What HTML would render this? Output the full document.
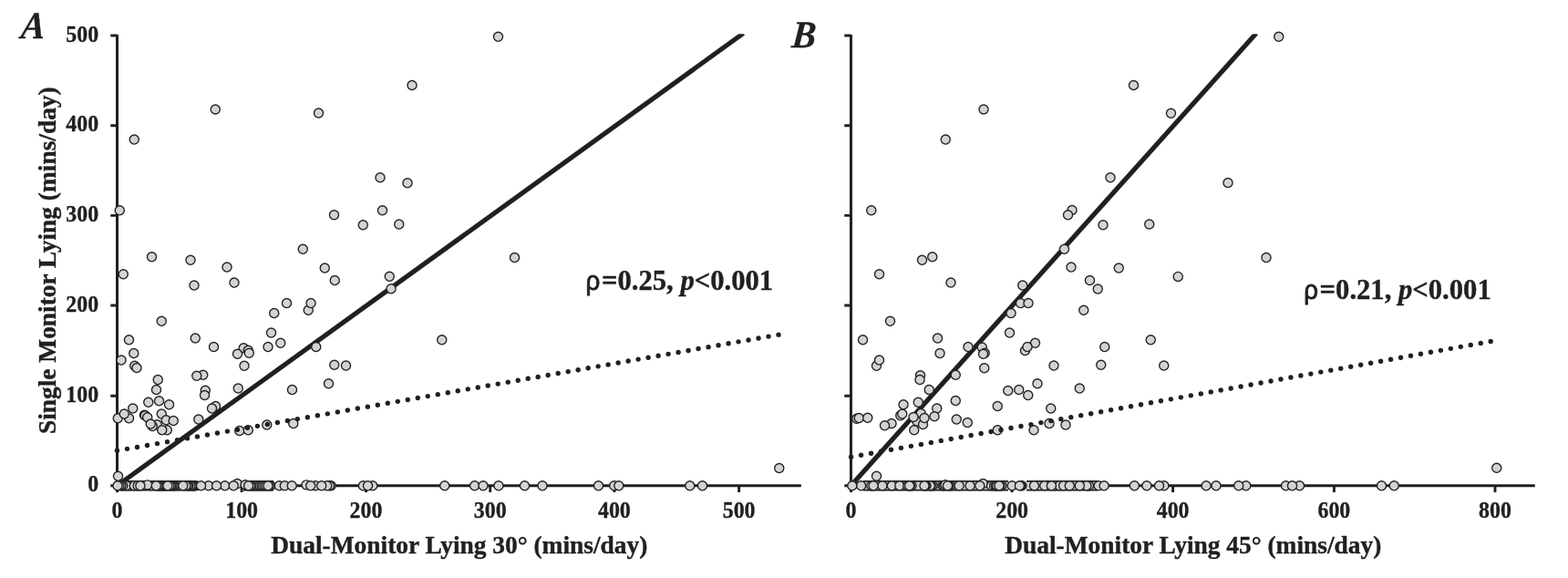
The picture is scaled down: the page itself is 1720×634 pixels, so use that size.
<!DOCTYPE html>
<html lang="en">
<head>
<meta charset="utf-8">
<title>Figure: Single monitor vs dual-monitor lying</title>
<style>
html,body{margin:0;padding:0;background:#fff;}
body{width:1720px;height:634px;overflow:hidden;}
svg{display:block;}
text{font-family:"Liberation Serif","Times New Roman",Times,serif;font-weight:bold;fill:#231f20;}
.rho{font-family:"Liberation Sans","DejaVu Sans",Arial,sans-serif;font-weight:normal;font-size:28.6px;stroke-width:0.85px;}
</style>
</head>
<body>
<svg width="1720" height="634" viewBox="0 0 1720 634">
<rect width="1720" height="634" fill="#fff"/>
<defs>
<clipPath id="ca"><rect x="0" y="37.3" width="1720" height="600"/></clipPath>
</defs>
<g>
<line x1="128.5" y1="532.75" x2="815.5" y2="36.5" stroke="#231f20" stroke-width="5.2" clip-path="url(#ca)"/>
<path d="M128.5 37.9V532.75M121.3 532.75H878.8" fill="none" stroke="#231f20" stroke-width="3.0"/>
<path d="M121.3 39.0H128.5M121.3 137.7H128.5M121.3 236.4H128.5M121.3 335.0H128.5M121.3 434.3H128.5M128.5 532.75V540.05M265.1 532.75V540.05M401.5 532.75V540.05M537.7 532.75V540.05M673.9 532.75V540.05M810.6 532.75V540.05" fill="none" stroke="#231f20" stroke-width="2.9"/>
<path d="M133 532.75H214M267 532.75H300" fill="none" stroke="#d1d3d4" stroke-width="9"/>
<path d="M133 527.9H214M133 537.6H214M267 527.9H300M267 537.6H300" fill="none" stroke="#231f20" stroke-width="1.7"/>
<g fill="#d1d3d4" stroke="#231f20" stroke-width="1.35">
<circle cx="236.25" cy="120.00" r="5.05"/>
<circle cx="349.50" cy="124.00" r="5.05"/>
<circle cx="147.25" cy="153.00" r="5.05"/>
<circle cx="417.00" cy="194.75" r="5.05"/>
<circle cx="131.25" cy="230.75" r="5.05"/>
<circle cx="419.50" cy="230.75" r="5.05"/>
<circle cx="366.50" cy="235.75" r="5.05"/>
<circle cx="398.25" cy="246.75" r="5.05"/>
<circle cx="332.25" cy="273.25" r="5.05"/>
<circle cx="166.50" cy="281.75" r="5.05"/>
<circle cx="209.00" cy="285.25" r="5.05"/>
<circle cx="249.00" cy="293.00" r="5.05"/>
<circle cx="356.25" cy="294.00" r="5.05"/>
<circle cx="135.25" cy="300.75" r="5.05"/>
<circle cx="367.25" cy="307.50" r="5.05"/>
<circle cx="257.00" cy="310.00" r="5.05"/>
<circle cx="213.00" cy="313.00" r="5.05"/>
<circle cx="427.25" cy="303.25" r="5.05"/>
<circle cx="429.00" cy="316.75" r="5.05"/>
<circle cx="314.50" cy="332.50" r="5.05"/>
<circle cx="338.25" cy="340.25" r="5.05"/>
<circle cx="300.75" cy="343.50" r="5.05"/>
<circle cx="177.25" cy="352.25" r="5.05"/>
<circle cx="297.50" cy="365.00" r="5.05"/>
<circle cx="214.25" cy="371.00" r="5.05"/>
<circle cx="141.50" cy="372.75" r="5.05"/>
<circle cx="307.75" cy="376.25" r="5.05"/>
<circle cx="234.50" cy="380.50" r="5.05"/>
<circle cx="294.00" cy="380.50" r="5.05"/>
<circle cx="346.75" cy="380.50" r="5.05"/>
<circle cx="267.25" cy="381.75" r="5.05"/>
<circle cx="272.25" cy="384.25" r="5.05"/>
<circle cx="273.25" cy="387.25" r="5.05"/>
<circle cx="260.50" cy="388.25" r="5.05"/>
<circle cx="146.75" cy="387.50" r="5.05"/>
<circle cx="133.00" cy="395.00" r="5.05"/>
<circle cx="147.75" cy="401.25" r="5.05"/>
<circle cx="150.00" cy="403.50" r="5.05"/>
<circle cx="268.00" cy="401.25" r="5.05"/>
<circle cx="366.75" cy="400.25" r="5.05"/>
<circle cx="379.50" cy="401.00" r="5.05"/>
<circle cx="222.75" cy="411.25" r="5.05"/>
<circle cx="215.75" cy="412.25" r="5.05"/>
<circle cx="173.25" cy="416.50" r="5.05"/>
<circle cx="360.50" cy="420.75" r="5.05"/>
<circle cx="261.25" cy="426.00" r="5.05"/>
<circle cx="171.50" cy="427.50" r="5.05"/>
<circle cx="320.50" cy="427.50" r="5.05"/>
<circle cx="225.25" cy="428.25" r="5.05"/>
<circle cx="224.50" cy="433.50" r="5.05"/>
<circle cx="174.50" cy="439.75" r="5.05"/>
<circle cx="162.75" cy="441.25" r="5.05"/>
<circle cx="185.50" cy="443.75" r="5.05"/>
<circle cx="236.50" cy="445.50" r="5.05"/>
<circle cx="232.50" cy="448.00" r="5.05"/>
<circle cx="145.75" cy="448.00" r="5.05"/>
<circle cx="177.25" cy="454.00" r="5.05"/>
<circle cx="158.45" cy="455.25" r="5.05"/>
<circle cx="159.25" cy="455.75" r="5.05"/>
<circle cx="161.75" cy="457.75" r="5.05"/>
<circle cx="129.25" cy="458.75" r="5.05"/>
<circle cx="141.50" cy="458.75" r="5.05"/>
<circle cx="217.75" cy="460.00" r="5.05"/>
<circle cx="182.25" cy="460.75" r="5.05"/>
<circle cx="190.25" cy="461.50" r="5.05"/>
<circle cx="172.25" cy="465.75" r="5.05"/>
<circle cx="167.25" cy="467.50" r="5.05"/>
<circle cx="292.75" cy="466.00" r="5.05"/>
<circle cx="321.75" cy="464.50" r="5.05"/>
<circle cx="183.25" cy="471.75" r="5.05"/>
<circle cx="262.75" cy="472.50" r="5.05"/>
<circle cx="272.25" cy="471.75" r="5.05"/>
<circle cx="546.50" cy="40.25" r="5.05"/>
<circle cx="452.00" cy="93.50" r="5.05"/>
<circle cx="447.00" cy="200.75" r="5.05"/>
<circle cx="437.75" cy="246.00" r="5.05"/>
<circle cx="564.50" cy="282.50" r="5.05"/>
<circle cx="484.75" cy="372.75" r="5.05"/>
<circle cx="854.75" cy="513.50" r="5.05"/>
<circle cx="129.50" cy="522.25" r="5.05"/>
<circle cx="136.25" cy="454.00" r="5.05"/>
<circle cx="165.25" cy="465.00" r="5.05"/>
<circle cx="177.75" cy="471.75" r="5.05"/>
<circle cx="341.00" cy="332.50" r="5.05"/>
<circle cx="142.90" cy="532.75" r="5.05"/>
<circle cx="138.60" cy="532.75" r="5.05"/>
<circle cx="134.70" cy="532.75" r="5.05"/>
<circle cx="132.80" cy="532.75" r="5.05"/>
<circle cx="130.90" cy="532.75" r="5.05"/>
<circle cx="147.30" cy="532.75" r="5.05"/>
<circle cx="151.10" cy="532.75" r="5.05"/>
<circle cx="161.80" cy="531.85" r="5.05"/>
<circle cx="182.00" cy="532.75" r="5.05"/>
<circle cx="180.50" cy="532.75" r="5.05"/>
<circle cx="179.00" cy="532.75" r="5.05"/>
<circle cx="177.50" cy="532.75" r="5.05"/>
<circle cx="176.00" cy="532.75" r="5.05"/>
<circle cx="174.50" cy="532.75" r="5.05"/>
<circle cx="173.00" cy="532.75" r="5.05"/>
<circle cx="196.00" cy="532.75" r="5.05"/>
<circle cx="192.00" cy="532.75" r="5.05"/>
<circle cx="190.50" cy="532.75" r="5.05"/>
<circle cx="189.00" cy="532.75" r="5.05"/>
<circle cx="187.50" cy="532.75" r="5.05"/>
<circle cx="186.00" cy="532.75" r="5.05"/>
<circle cx="215.00" cy="532.75" r="5.05"/>
<circle cx="213.50" cy="532.75" r="5.05"/>
<circle cx="212.00" cy="532.75" r="5.05"/>
<circle cx="210.50" cy="532.75" r="5.05"/>
<circle cx="209.00" cy="532.75" r="5.05"/>
<circle cx="206.90" cy="532.75" r="5.05"/>
<circle cx="205.50" cy="532.75" r="5.05"/>
<circle cx="203.80" cy="532.75" r="5.05"/>
<circle cx="228.70" cy="532.75" r="5.05"/>
<circle cx="246.70" cy="532.75" r="5.05"/>
<circle cx="260.30" cy="530.55" r="5.05"/>
<circle cx="269.10" cy="531.75" r="5.05"/>
<circle cx="286.00" cy="532.75" r="5.05"/>
<circle cx="284.00" cy="532.75" r="5.05"/>
<circle cx="282.00" cy="532.75" r="5.05"/>
<circle cx="280.10" cy="532.75" r="5.05"/>
<circle cx="278.00" cy="532.75" r="5.05"/>
<circle cx="276.00" cy="532.75" r="5.05"/>
<circle cx="274.50" cy="532.75" r="5.05"/>
<circle cx="288.00" cy="532.75" r="5.05"/>
<circle cx="290.00" cy="532.75" r="5.05"/>
<circle cx="292.00" cy="532.75" r="5.05"/>
<circle cx="297.00" cy="532.75" r="5.05"/>
<circle cx="295.30" cy="532.75" r="5.05"/>
<circle cx="306.30" cy="532.75" r="5.05"/>
<circle cx="312.30" cy="532.75" r="5.05"/>
<circle cx="336.00" cy="531.85" r="5.05"/>
<circle cx="346.00" cy="532.75" r="5.05"/>
<circle cx="363.10" cy="532.75" r="5.05"/>
<circle cx="361.50" cy="532.75" r="5.05"/>
<circle cx="358.70" cy="532.75" r="5.05"/>
<circle cx="398.40" cy="532.75" r="5.05"/>
<circle cx="408.75" cy="532.75" r="5.05"/>
<circle cx="129.00" cy="532.75" r="5.05"/>
<circle cx="153.90" cy="532.75" r="5.05"/>
<circle cx="171.30" cy="532.75" r="5.05"/>
<circle cx="183.90" cy="532.75" r="5.05"/>
<circle cx="200.80" cy="532.75" r="5.05"/>
<circle cx="220.50" cy="532.75" r="5.05"/>
<circle cx="237.50" cy="532.75" r="5.05"/>
<circle cx="256.20" cy="532.75" r="5.05"/>
<circle cx="272.60" cy="532.75" r="5.05"/>
<circle cx="294.00" cy="532.75" r="5.05"/>
<circle cx="320.20" cy="532.75" r="5.05"/>
<circle cx="340.70" cy="532.75" r="5.05"/>
<circle cx="352.70" cy="532.75" r="5.05"/>
<circle cx="403.50" cy="532.75" r="5.05"/>
<circle cx="487.75" cy="532.75" r="5.05"/>
<circle cx="520.60" cy="532.75" r="5.05"/>
<circle cx="530.00" cy="532.75" r="5.05"/>
<circle cx="546.90" cy="532.75" r="5.05"/>
<circle cx="575.50" cy="532.75" r="5.05"/>
<circle cx="595.00" cy="532.75" r="5.05"/>
<circle cx="656.50" cy="532.75" r="5.05"/>
<circle cx="673.75" cy="532.75" r="5.05"/>
<circle cx="678.75" cy="532.75" r="5.05"/>
<circle cx="756.75" cy="532.75" r="5.05"/>
<circle cx="770.50" cy="532.75" r="5.05"/>
</g>
<line x1="128.5" y1="494.3" x2="856" y2="366.8" stroke="#231f20" stroke-width="5.4" stroke-linecap="round" stroke-dasharray="0 11.16"/>
<g font-size="25.0" text-anchor="end" stroke="#231f20" stroke-width="0.35">
<text transform="translate(108.1 45.5) scale(0.956 1)">500</text>
<text transform="translate(108.1 144.2) scale(0.956 1)">400</text>
<text transform="translate(108.1 242.9) scale(0.956 1)">300</text>
<text transform="translate(108.1 341.5) scale(0.956 1)">200</text>
<text transform="translate(108.1 440.8) scale(0.956 1)">100</text>
<text transform="translate(108.1 539.2) scale(0.956 1)">0</text>
</g>
<g font-size="25.0" text-anchor="middle" stroke="#231f20" stroke-width="0.35">
<text transform="translate(128.5 568.3) scale(0.956 1)">0</text>
<text transform="translate(265.1 568.3) scale(0.956 1)">100</text>
<text transform="translate(401.5 568.3) scale(0.956 1)">200</text>
<text transform="translate(537.7 568.3) scale(0.956 1)">300</text>
<text transform="translate(673.9 568.3) scale(0.956 1)">400</text>
<text transform="translate(810.6 568.3) scale(0.956 1)">500</text>
</g>
<text x="503.8" y="606.5" font-size="27.4" text-anchor="middle" stroke="#231f20" stroke-width="0.4">Dual-Monitor Lying 30° (mins/day)</text>
<text transform="translate(643.5 317.6) scale(0.97 1)" font-size="31.6" stroke="#231f20" stroke-width="0.4"><tspan class="rho" dx="-1">ρ</tspan><tspan dx="1.75">=</tspan>0.25, <tspan font-style="italic">p</tspan>&lt;0.001</text>
<text transform="translate(22.3 41.5) skewX(-5) scale(0.94 1)" font-size="42" font-style="italic" stroke="#231f20" stroke-width="0.3">A</text>
</g>
<text transform="translate(61.1 285.7) rotate(-90)" font-size="27.4" text-anchor="middle" stroke="#231f20" stroke-width="0.4">Single Monitor Lying (mins/day)</text>
<g>
<line x1="933.45" y1="532.75" x2="1378" y2="36.5" stroke="#231f20" stroke-width="5.2" clip-path="url(#ca)"/>
<path d="M933.45 37.9V532.75M926.25 532.75H1683.8" fill="none" stroke="#231f20" stroke-width="3.0"/>
<path d="M926.25 39.0H933.45M926.25 137.7H933.45M926.25 236.4H933.45M926.25 335.0H933.45M926.25 434.3H933.45M933.45 532.75V540.05M1110.1 532.75V540.05M1286.6 532.75V540.05M1463.4 532.75V540.05M1640 532.75V540.05" fill="none" stroke="#231f20" stroke-width="2.9"/>
<path d="M947 532.75H1106M1126 532.75H1204" fill="none" stroke="#d1d3d4" stroke-width="9"/>
<path d="M947 527.9H1106M947 537.6H1106M1126 527.9H1204M1126 537.6H1204" fill="none" stroke="#231f20" stroke-width="1.7"/>
<g fill="#d1d3d4" stroke="#231f20" stroke-width="1.35">
<circle cx="1243.50" cy="93.50" r="5.05"/>
<circle cx="1079.00" cy="120.00" r="5.05"/>
<circle cx="1284.50" cy="124.25" r="5.05"/>
<circle cx="1037.25" cy="153.00" r="5.05"/>
<circle cx="1218.00" cy="194.75" r="5.05"/>
<circle cx="955.75" cy="230.75" r="5.05"/>
<circle cx="1176.00" cy="230.50" r="5.05"/>
<circle cx="1171.50" cy="235.75" r="5.05"/>
<circle cx="1210.00" cy="246.75" r="5.05"/>
<circle cx="1260.75" cy="246.00" r="5.05"/>
<circle cx="1167.50" cy="273.25" r="5.05"/>
<circle cx="1022.75" cy="281.75" r="5.05"/>
<circle cx="1011.50" cy="285.25" r="5.05"/>
<circle cx="1175.00" cy="293.00" r="5.05"/>
<circle cx="1227.25" cy="294.00" r="5.05"/>
<circle cx="964.50" cy="300.75" r="5.05"/>
<circle cx="1195.50" cy="307.50" r="5.05"/>
<circle cx="1043.00" cy="310.00" r="5.05"/>
<circle cx="1121.75" cy="313.00" r="5.05"/>
<circle cx="1204.25" cy="317.00" r="5.05"/>
<circle cx="1292.25" cy="303.45" r="5.05"/>
<circle cx="1119.50" cy="332.50" r="5.05"/>
<circle cx="1128.00" cy="332.50" r="5.05"/>
<circle cx="1188.75" cy="340.25" r="5.05"/>
<circle cx="1109.00" cy="343.50" r="5.05"/>
<circle cx="976.50" cy="352.25" r="5.05"/>
<circle cx="1107.50" cy="365.00" r="5.05"/>
<circle cx="1028.50" cy="371.00" r="5.05"/>
<circle cx="946.50" cy="372.75" r="5.05"/>
<circle cx="1262.25" cy="372.75" r="5.05"/>
<circle cx="1135.50" cy="376.25" r="5.05"/>
<circle cx="1062.00" cy="380.50" r="5.05"/>
<circle cx="1077.25" cy="381.00" r="5.05"/>
<circle cx="1211.75" cy="380.50" r="5.05"/>
<circle cx="1124.50" cy="384.50" r="5.05"/>
<circle cx="1080.25" cy="387.25" r="5.05"/>
<circle cx="1078.50" cy="388.25" r="5.05"/>
<circle cx="1031.00" cy="387.50" r="5.05"/>
<circle cx="961.50" cy="401.25" r="5.05"/>
<circle cx="1156.00" cy="401.00" r="5.05"/>
<circle cx="1207.75" cy="400.25" r="5.05"/>
<circle cx="1276.75" cy="401.00" r="5.05"/>
<circle cx="1079.75" cy="403.75" r="5.05"/>
<circle cx="1009.50" cy="411.75" r="5.05"/>
<circle cx="1048.25" cy="411.25" r="5.05"/>
<circle cx="1009.00" cy="416.50" r="5.05"/>
<circle cx="1138.00" cy="420.75" r="5.05"/>
<circle cx="1019.25" cy="427.50" r="5.05"/>
<circle cx="1184.25" cy="426.00" r="5.05"/>
<circle cx="1117.75" cy="427.50" r="5.05"/>
<circle cx="1105.75" cy="428.50" r="5.05"/>
<circle cx="1127.75" cy="433.50" r="5.05"/>
<circle cx="1048.25" cy="439.50" r="5.05"/>
<circle cx="1007.25" cy="441.25" r="5.05"/>
<circle cx="991.00" cy="443.75" r="5.05"/>
<circle cx="1094.25" cy="445.50" r="5.05"/>
<circle cx="1027.75" cy="448.00" r="5.05"/>
<circle cx="1152.75" cy="448.00" r="5.05"/>
<circle cx="1010.25" cy="453.50" r="5.05"/>
<circle cx="987.75" cy="455.75" r="5.05"/>
<circle cx="1025.00" cy="456.75" r="5.05"/>
<circle cx="939.75" cy="459.25" r="5.05"/>
<circle cx="942.25" cy="458.50" r="5.05"/>
<circle cx="951.75" cy="458.25" r="5.05"/>
<circle cx="1049.25" cy="460.00" r="5.05"/>
<circle cx="1005.75" cy="462.00" r="5.05"/>
<circle cx="1061.25" cy="463.50" r="5.05"/>
<circle cx="978.00" cy="464.50" r="5.05"/>
<circle cx="1151.00" cy="464.50" r="5.05"/>
<circle cx="970.50" cy="466.75" r="5.05"/>
<circle cx="1012.50" cy="465.50" r="5.05"/>
<circle cx="1169.00" cy="466.00" r="5.05"/>
<circle cx="1002.75" cy="471.75" r="5.05"/>
<circle cx="1094.25" cy="471.75" r="5.05"/>
<circle cx="1134.00" cy="471.75" r="5.05"/>
<circle cx="1402.75" cy="40.25" r="5.05"/>
<circle cx="1347.00" cy="200.50" r="5.05"/>
<circle cx="1389.00" cy="282.50" r="5.05"/>
<circle cx="1641.75" cy="513.25" r="5.05"/>
<circle cx="961.50" cy="522.25" r="5.05"/>
<circle cx="1127.00" cy="380.50" r="5.05"/>
<circle cx="964.50" cy="395.00" r="5.05"/>
<circle cx="989.75" cy="454.00" r="5.05"/>
<circle cx="1002.00" cy="457.50" r="5.05"/>
<circle cx="1014.00" cy="458.50" r="5.05"/>
<circle cx="944.60" cy="532.75" r="5.05"/>
<circle cx="955.90" cy="532.75" r="5.05"/>
<circle cx="967.90" cy="532.75" r="5.05"/>
<circle cx="978.30" cy="532.75" r="5.05"/>
<circle cx="986.80" cy="532.75" r="5.05"/>
<circle cx="995.70" cy="532.75" r="5.05"/>
<circle cx="1000.00" cy="532.75" r="5.05"/>
<circle cx="998.20" cy="532.75" r="5.05"/>
<circle cx="1023.10" cy="532.75" r="5.05"/>
<circle cx="1021.20" cy="532.75" r="5.05"/>
<circle cx="1020.30" cy="532.75" r="5.05"/>
<circle cx="1015.90" cy="532.75" r="5.05"/>
<circle cx="1014.60" cy="532.75" r="5.05"/>
<circle cx="1034.10" cy="532.75" r="5.05"/>
<circle cx="1035.70" cy="532.75" r="5.05"/>
<circle cx="1037.00" cy="531.75" r="5.05"/>
<circle cx="1042.70" cy="532.75" r="5.05"/>
<circle cx="1040.80" cy="532.75" r="5.05"/>
<circle cx="1052.10" cy="532.75" r="5.05"/>
<circle cx="1078.30" cy="530.55" r="5.05"/>
<circle cx="1087.50" cy="532.75" r="5.05"/>
<circle cx="1090.60" cy="532.75" r="5.05"/>
<circle cx="1092.50" cy="532.75" r="5.05"/>
<circle cx="1093.80" cy="532.75" r="5.05"/>
<circle cx="1098.80" cy="532.75" r="5.05"/>
<circle cx="1096.90" cy="532.75" r="5.05"/>
<circle cx="1110.20" cy="532.75" r="5.05"/>
<circle cx="1120.90" cy="532.75" r="5.05"/>
<circle cx="1119.60" cy="532.75" r="5.05"/>
<circle cx="1145.80" cy="532.75" r="5.05"/>
<circle cx="1157.20" cy="532.75" r="5.05"/>
<circle cx="1162.20" cy="532.75" r="5.05"/>
<circle cx="1166.60" cy="532.75" r="5.05"/>
<circle cx="1194.40" cy="532.75" r="5.05"/>
<circle cx="1191.90" cy="532.75" r="5.05"/>
<circle cx="1205.10" cy="532.75" r="5.05"/>
<circle cx="1276.90" cy="532.75" r="5.05"/>
<circle cx="1366.75" cy="532.75" r="5.05"/>
<circle cx="1410.50" cy="532.75" r="5.05"/>
<circle cx="1425.50" cy="532.75" r="5.05"/>
<circle cx="934.80" cy="532.75" r="5.05"/>
<circle cx="958.10" cy="532.75" r="5.05"/>
<circle cx="997.60" cy="532.75" r="5.05"/>
<circle cx="1014.00" cy="532.75" r="5.05"/>
<circle cx="1039.50" cy="532.75" r="5.05"/>
<circle cx="1064.10" cy="532.75" r="5.05"/>
<circle cx="1074.80" cy="532.75" r="5.05"/>
<circle cx="1096.00" cy="532.75" r="5.05"/>
<circle cx="1118.40" cy="532.75" r="5.05"/>
<circle cx="1134.50" cy="532.75" r="5.05"/>
<circle cx="1153.40" cy="532.75" r="5.05"/>
<circle cx="1173.30" cy="532.75" r="5.05"/>
<circle cx="1184.30" cy="532.75" r="5.05"/>
<circle cx="1211.10" cy="532.75" r="5.05"/>
<circle cx="1244.40" cy="532.75" r="5.05"/>
<circle cx="1257.90" cy="532.75" r="5.05"/>
<circle cx="1271.50" cy="532.75" r="5.05"/>
<circle cx="1323.10" cy="532.75" r="5.05"/>
<circle cx="1334.00" cy="532.75" r="5.05"/>
<circle cx="1358.75" cy="532.75" r="5.05"/>
<circle cx="1417.50" cy="532.75" r="5.05"/>
<circle cx="1515.50" cy="532.75" r="5.05"/>
<circle cx="1529.25" cy="532.75" r="5.05"/>
</g>
<line x1="933.6" y1="501.25" x2="1640" y2="373.55" stroke="#231f20" stroke-width="5.4" stroke-linecap="round" stroke-dasharray="0 11.14"/>
<g font-size="25.0" text-anchor="end" stroke="#231f20" stroke-width="0.35">
</g>
<g font-size="25.0" text-anchor="middle" stroke="#231f20" stroke-width="0.35">
<text transform="translate(933.5 568.3) scale(0.956 1)">0</text>
<text transform="translate(1110.1 568.3) scale(0.956 1)">200</text>
<text transform="translate(1286.6 568.3) scale(0.956 1)">400</text>
<text transform="translate(1463.4 568.3) scale(0.956 1)">600</text>
<text transform="translate(1640.0 568.3) scale(0.956 1)">800</text>
</g>
<text x="1308.8" y="606.5" font-size="27.4" text-anchor="middle" stroke="#231f20" stroke-width="0.4">Dual-Monitor Lying 45° (mins/day)</text>
<text transform="translate(1431.1 327.8) scale(0.97 1)" font-size="31.6" stroke="#231f20" stroke-width="0.4"><tspan class="rho" dx="-1">ρ</tspan><tspan dx="1.75">=</tspan>0.21, <tspan font-style="italic">p</tspan>&lt;0.001</text>
<text transform="translate(867.8 52.4) skewX(-5) scale(0.94 1)" font-size="42" font-style="italic" stroke="#231f20" stroke-width="0.3">B</text>
</g>
</svg>
</body>
</html>
